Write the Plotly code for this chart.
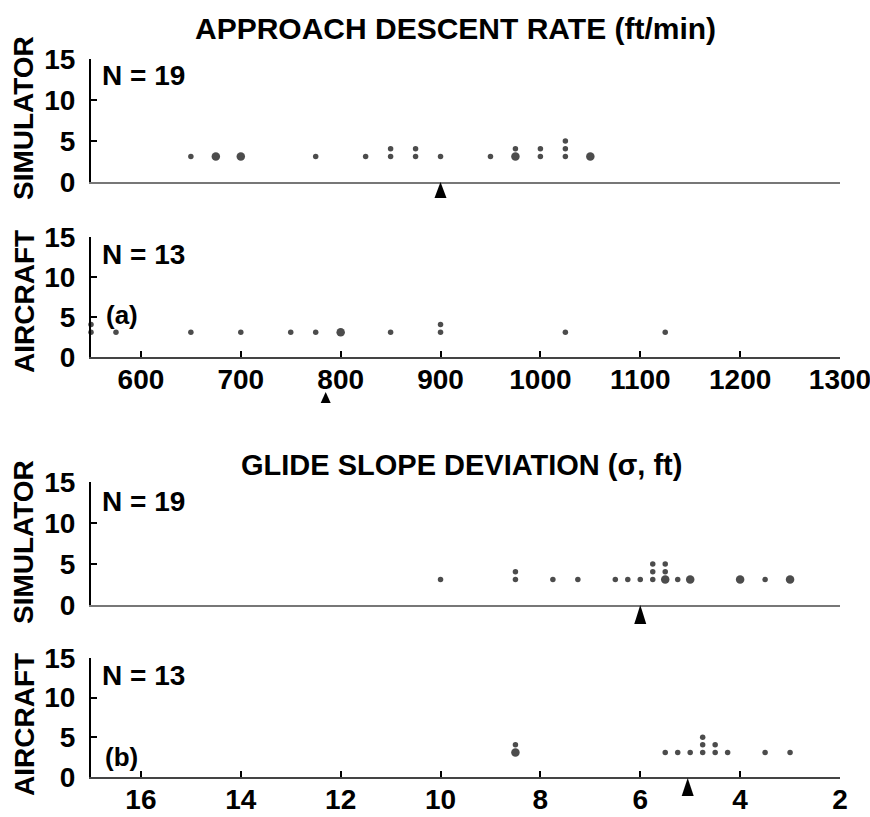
import plotly.graph_objects as go
from collections import Counter

# ---------------- data ----------------
rate_ticks = [600, 700, 800, 900, 1000, 1100, 1200, 1300]
gs_ticks = [16, 14, 12, 10, 8, 6, 4, 2]
y_ticks = [0, 5, 10, 15]

# approach descent rate (ft/min), one entry per pilot (repeats are stacked)
sim_rate = [650, 675, 700, 775, 825, 850, 850, 875, 875, 900, 950,
            975, 975, 1000, 1000, 1025, 1025, 1025, 1050]
air_rate = [550, 550, 575, 650, 700, 750, 775, 800, 850, 900, 900, 1025, 1125]

# glide slope deviation (sigma, ft)
sim_gs = [10.0, 8.5, 8.5, 7.75, 7.25, 6.5, 6.25, 6.0, 5.75, 5.75, 5.75,
          5.5, 5.5, 5.5, 5.25, 5.0, 4.0, 3.5, 3.0]
air_gs = [8.5, 8.5, 5.5, 5.25, 5.0, 4.75, 4.75, 4.75, 4.5, 4.5, 4.25, 3.5, 3.0]

# means (arrows)
sim_rate_mean = 900
air_rate_mean = 785
sim_gs_mean = 6.0
air_gs_mean = 5.05

sim_n = 19
air_n = 13

# ---------------- style ----------------
W, H = 870, 817
FONT = "Liberation Sans, Arial, sans-serif"
LARGE = {  # x values whose bottom dot is printed larger
    "p1": [675, 700, 975, 1050],
    "p2": [800],
    "p3": [5.5, 5.0, 4.0, 3.0],
    "p4": [8.5],
}
BASE, STEP = 3.1, 0.95
SMALL_SZ, BIG_SZ = 5.5, 8.5


def px_x(p):
    return p / W


def px_y(p):
    return 1 - p / H


def stack(values, large):
    cnt = Counter()
    xs, ys, sz = [], [], []
    for v in values:
        lvl = cnt[v]
        cnt[v] += 1
        xs.append(v)
        ys.append(BASE + STEP * lvl)
        sz.append(BIG_SZ if (lvl == 0 and v in large) else SMALL_SZ)
    return xs, ys, sz


fig = go.Figure()

panels = [
    ("p1", sim_rate, "x", "y"),
    ("p2", air_rate, "x2", "y2"),
    ("p3", sim_gs, "x3", "y3"),
    ("p4", air_gs, "x4", "y4"),
]
for key, vals, xa, ya in panels:
    xs, ys, sz = stack(vals, LARGE[key])
    fig.add_trace(go.Scatter(
        x=xs, y=ys, mode="markers", xaxis=xa, yaxis=ya,
        marker=dict(color="black", size=sz, line=dict(width=0)),
        cliponaxis=False, showlegend=False, hoverinfo="x",
    ))

XDOM = [px_x(91), px_x(840)]
ydoms = [
    [px_y(182), px_y(59)],
    [px_y(357), px_y(237)],
    [px_y(605), px_y(482)],
    [px_y(777), px_y(658)],
]

tickfont = dict(family=FONT, size=28, color="black", weight="bold")

layout = dict(
    width=W, height=H, autosize=False,
    margin=dict(l=0, r=0, t=0, b=0, pad=0, autoexpand=False),
    paper_bgcolor="white", plot_bgcolor="white",
    showlegend=False,
)

xranges = [[550, 1300], [550, 1300], [17, 2], [17, 2]]
xticks = [None, rate_ticks, None, gs_ticks]
for i in range(4):
    xname = "xaxis" if i == 0 else f"xaxis{i+1}"
    yname = "yaxis" if i == 0 else f"yaxis{i+1}"
    anchor_y = "y" if i == 0 else f"y{i+1}"
    anchor_x = "x" if i == 0 else f"x{i+1}"
    labelled = xticks[i] is not None
    layout[xname] = dict(
        domain=XDOM, anchor=anchor_y, range=xranges[i],
        showgrid=False, zeroline=False, automargin=False,
        showline=True, linecolor="#444" if labelled else "#777",
        linewidth=2,
        ticks="inside" if labelled else "",
        tickvals=xticks[i] if labelled else [],
        ticklen=6, tickwidth=2, tickcolor="black",
        showticklabels=labelled,
        tickfont=tickfont,
        ticklabelstandoff=-4,
        ticklabeloverflow="allow",
        fixedrange=True,
    )
    layout[yname] = dict(
        domain=ydoms[i], anchor=anchor_x, range=[0, 15],
        showgrid=False, zeroline=False, automargin=False,
        showline=True, linecolor="black", linewidth=2,
        ticks="inside", tickvals=y_ticks, ticklen=6, tickwidth=2,
        tickcolor="black", tickfont=tickfont, ticklabelstandoff=8,
        ticklabeloverflow="allow",
        fixedrange=True,
    )

fig.update_layout(**layout)

# mean arrows (pixel-sized triangles anchored at the mean value; tip y in px)
arrows = [
    (sim_rate_mean, 182, "x", 6, 16),
    (air_rate_mean, 392, "x2", 5, 11),
    (sim_gs_mean, 605, "x3", 6, 19),
    (air_gs_mean, 778, "x4", 6, 18),
]
for xv, ytip, xa, hw, hh in arrows:
    fig.add_shape(
        type="path", xref=xa, yref="paper",
        xsizemode="pixel", ysizemode="pixel",
        xanchor=xv, yanchor=px_y(ytip),
        path=f"M0,0 L{-hw},{-hh} L{hw},{-hh} Z",
        fillcolor="black", line=dict(width=0),
    )

bold = dict(family=FONT, color="black", weight="bold")


def ann(text, x, y, size, xanchor="left", angle=0):
    fig.add_annotation(
        text=text, x=px_x(x), y=px_y(y), xref="paper", yref="paper",
        xanchor=xanchor, yanchor="middle", showarrow=False,
        textangle=angle, font=dict(size=size, **bold),
    )


ann("APPROACH DESCENT RATE (ft/min)", 455, 28, 30, "center")
ann("GLIDE SLOPE DEVIATION (\u03c3, ft)", 462, 465, 29, "center")

ann(f"N = {sim_n}", 100, 75, 28)
ann(f"N = {air_n}", 100, 254, 28)
ann(f"N = {sim_n}", 100, 501, 28)
ann(f"N = {air_n}", 100, 675, 28)
ann("(a)", 104, 315, 26)
ann("(b)", 103, 757, 26)

ann("SIMULATOR", 23, 118, 28, "center", -90)
ann("AIRCRAFT", 24, 302, 28, "center", -90)
ann("SIMULATOR", 23, 542, 28, "center", -90)
ann("AIRCRAFT", 24, 725, 28, "center", -90)

fig.write_html("out.html")
